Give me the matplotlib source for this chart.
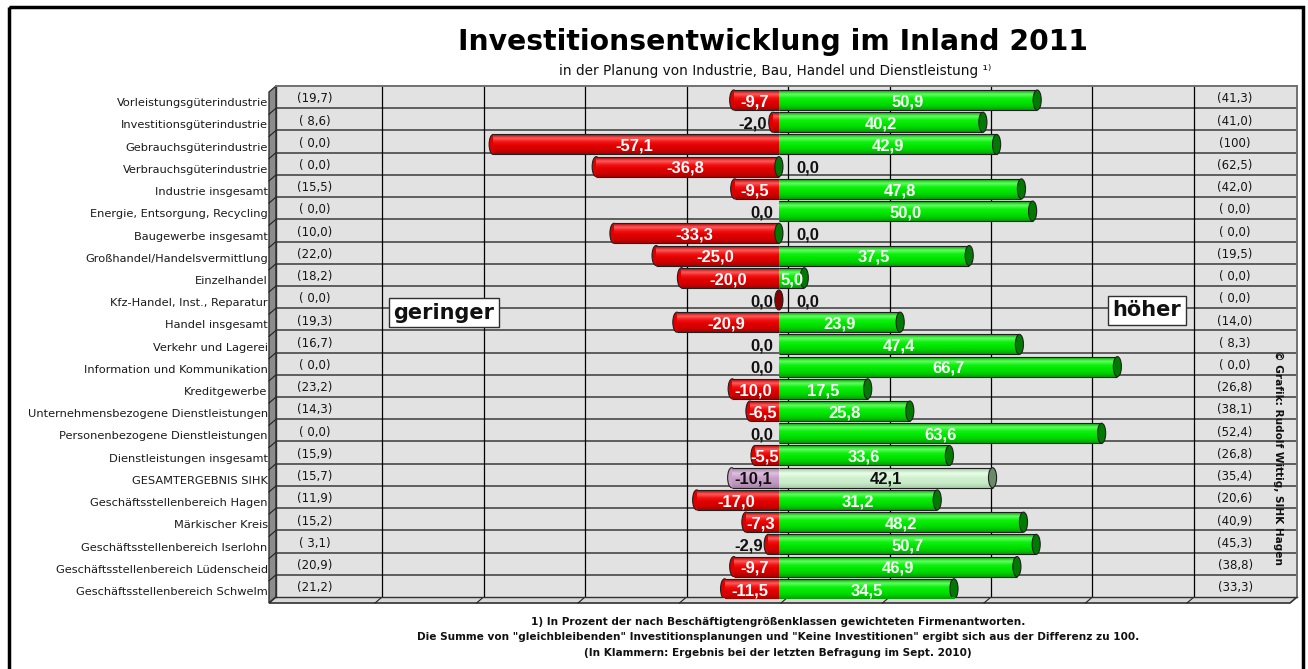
import numpy as np
import matplotlib
matplotlib.use("Agg")
import matplotlib.pyplot as plt
from matplotlib.patches import Ellipse, Polygon, Rectangle
from matplotlib.colors import LinearSegmentedColormap

# ---- data -------------------------------------------------------------
categories = [
    "Vorleistungsgüterindustrie",
    "Investitionsgüterindustrie",
    "Gebrauchsgüterindustrie",
    "Verbrauchsgüterindustrie",
    "Industrie insgesamt",
    "Energie, Entsorgung, Recycling",
    "Baugewerbe insgesamt",
    "Großhandel/Handelsvermittlung",
    "Einzelhandel",
    "Kfz-Handel, Inst., Reparatur",
    "Handel insgesamt",
    "Verkehr und Lagerei",
    "Information und Kommunikation",
    "Kreditgewerbe",
    "Unternehmensbezogene Dienstleistungen",
    "Personenbezogene Dienstleistungen",
    "Dienstleistungen insgesamt",
    "GESAMTERGEBNIS SIHK",
    "Geschäftsstellenbereich Hagen",
    "Märkischer Kreis",
    "Geschäftsstellenbereich Iserlohn",
    "Geschäftsstellenbereich Lüdenscheid",
    "Geschäftsstellenbereich Schwelm",
]
lower = [-9.7, -2.0, -57.1, -36.8, -9.5, 0.0, -33.3, -25.0, -20.0, 0.0, -20.9, 0.0,
         0.0, -10.0, -6.5, 0.0, -5.5, -10.1, -17.0, -7.3, -2.9, -9.7, -11.5]
higher = [50.9, 40.2, 42.9, 0.0, 47.8, 50.0, 0.0, 37.5, 5.0, 0.0, 23.9, 47.4,
          66.7, 17.5, 25.8, 63.6, 33.6, 42.1, 31.2, 48.2, 50.7, 46.9, 34.5]
# previous survey (Sept. 2010), shown in brackets
prev_lower = [19.7, 8.6, 0.0, 0.0, 15.5, 0.0, 10.0, 22.0, 18.2, 0.0, 19.3, 16.7,
              0.0, 23.2, 14.3, 0.0, 15.9, 15.7, 11.9, 15.2, 3.1, 20.9, 21.2]
prev_higher = [41.3, 41.0, 100, 62.5, 42.0, 0.0, 0.0, 19.5, 0.0, 0.0, 14.0, 8.3,
               0.0, 26.8, 38.1, 52.4, 26.8, 35.4, 20.6, 40.9, 45.3, 38.8, 33.3]
highlight = "GESAMTERGEBNIS SIHK"

title = "Investitionsentwicklung im Inland 2011"
subtitle = "in der Planung von Industrie, Bau, Handel und Dienstleistung \u00b9\u207e"
footnotes = [
    "1) In Prozent der nach Beschäftigtengrößenklassen gewichteten Firmenantworten.",
    "Die Summe von \"gleichbleibenden\" Investitionsplanungen und \"Keine Investitionen\" ergibt sich aus der Differenz zu 100.",
    "(In Klammern: Ergebnis bei der letzten Befragung im Sept. 2010)",
]
credit = "\u00a9 Grafik: Rudolf Wittig, SIHK Hagen"


def de(v):
    if abs(v) < 0.05:
        return "0,0"
    return f"{v:.1f}".replace(".", ",")


def de_prev(v):
    if v >= 100:
        return "(100)"
    return "(" + f"{v:4.1f}".replace(".", ",") + ")"


W, H = 1308, 669
fig = plt.figure(figsize=(W / 100, H / 100), dpi=100)
fig.patch.set_facecolor("white")

# plot wall in pixels: left 276, right 1297, top 86, bottom 597
ax = fig.add_axes([276 / W, 1 - 597 / H, (1297 - 276) / W, (597 - 86) / H])
ax.set_facecolor("#e2e2e2")
ax.set_xlim(-100.9, 100.3)
ax.set_ylim(23, 0)

BASE = -1.8      # front plane of the bars sits in front of the wall
BAR_H = 0.9
CAP_W = 1.6
n = len(categories)
yc = np.arange(n) + 0.63

for k in range(1, n):
    ax.axhline(k, color="#5e5e5e", lw=1.4, zorder=1)
for gx in range(-80, 100, 20):
    ax.axvline(gx, color="black", lw=0.9, zorder=1)

# cylinder shading colormaps
red_cm = LinearSegmentedColormap.from_list("r", ["#b00000", "#ff5a5a", "#f01010", "#e00000", "#d00000", "#a80000"])
green_cm = LinearSegmentedColormap.from_list("g", ["#00a000", "#60ff60", "#10f010", "#00e600", "#00d000", "#00a000"])
purple_cm = LinearSegmentedColormap.from_list("p", ["#a080a0", "#e0c0e0", "#c8a0c8", "#c098c0", "#a880a8"])
lgreen_cm = LinearSegmentedColormap.from_list("lg", ["#a0c8a0", "#e8ffe8", "#d0f0d0", "#c8ecc8", "#a8d0a8"])
grad = np.linspace(0, 1, 64).reshape(-1, 1)


def shade(bar, cmap):
    x0, y0 = bar.get_x(), bar.get_y()
    w, h = bar.get_width(), bar.get_height()
    im = ax.imshow(grad, extent=(x0, x0 + w, y0 + h, y0), cmap=cmap, aspect="auto",
                   interpolation="bilinear", zorder=bar.get_zorder() + 0.1)
    im.set_clip_path(bar)
    ax.hlines([y0, y0 + h], x0, x0 + w, color="#202020", lw=0.8, zorder=bar.get_zorder() + 0.2)


low = np.array(lower)
high = np.array(higher)
is_hl = np.array([c == highlight for c in categories])

# negative side: body starts half a cap width right of the value, rounded end fills the rest
neg_left = BASE + low + CAP_W / 2
neg_bars = ax.barh(yc, BASE - neg_left, left=neg_left, height=BAR_H, color="none",
                   edgecolor="none", zorder=4)
pos_bars = ax.barh(yc, high, left=BASE, height=BAR_H, color="none", edgecolor="none", zorder=6)

for i in range(n):
    red_fc, red_c = ("#c8a0c8", purple_cm) if is_hl[i] else ("#dd0000", red_cm)
    grn_cap, grn_c = ("#6a8a6a", lgreen_cm) if is_hl[i] else ("#007a00", green_cm)
    if low[i] < 0:
        ax.add_patch(Ellipse((neg_left[i], yc[i]), CAP_W, BAR_H, fc=red_fc, ec="#202020",
                             lw=0.8, zorder=3.5))
        shade(neg_bars[i], red_c)
    if high[i] > 0:
        shade(pos_bars[i], grn_c)
        ax.add_patch(Ellipse((BASE + high[i], yc[i]), CAP_W, BAR_H, fc=grn_cap, ec="#202020",
                             lw=0.8, zorder=7))
    elif low[i] < 0:
        ax.add_patch(Ellipse((BASE, yc[i]), CAP_W, BAR_H, fc="#007a00", ec="#202020", lw=0.8, zorder=7))
    else:
        ax.add_patch(Ellipse((BASE, yc[i]), CAP_W, BAR_H, fc="#8a0000", ec="#202020", lw=0.8, zorder=7))

# value labels
lab_font = dict(fontsize=12, fontweight="bold", family=["Liberation Sans", "DejaVu Sans"], zorder=9)
for i in range(n):
    ty = yc[i] + 0.08
    txt_col = "#101010" if is_hl[i] else "white"
    if low[i] == 0:
        ax.text(BASE - 1.2, ty, de(low[i]), ha="right", va="center", color="#101010", **lab_font)
    elif low[i] > -5:
        ax.text(BASE + low[i] - 0.3, ty, de(low[i]), ha="right", va="center", color="#101010", **lab_font)
    else:
        ax.text(BASE + low[i] / 2, ty, de(low[i]), ha="center", va="center", color=txt_col, **lab_font)
    if high[i] == 0:
        ax.text(BASE + 3.5, ty, de(high[i]), ha="left", va="center", color="#101010", **lab_font)
    else:
        ax.text(BASE + high[i] / 2, ty, de(high[i]), ha="center", va="center", color=txt_col, **lab_font)

# bracket columns (previous survey)
for i in range(n):
    ax.text(-93.2, yc[i] - 0.05, de_prev(prev_lower[i]), ha="center", va="center",
            fontsize=8.5, color="#151515", zorder=9)
    ax.text(88.1, yc[i] - 0.05, de_prev(prev_higher[i]), ha="center", va="center",
            fontsize=8.5, color="#151515", zorder=9)

box = dict(boxstyle="square,pad=0.22", fc="white", ec="#303030", lw=1.0)
ax.text(-67.8, 10.2, "geringer", ha="center", va="center", fontsize=15, fontweight="bold",
        color="#111111", bbox=box, zorder=10)
ax.text(70.7, 10.1, "höher", ha="center", va="center", fontsize=15, fontweight="bold",
        color="#111111", bbox=box, zorder=10)

ax.set_yticks(yc + 0.1)
ax.set_yticklabels(categories, fontsize=8.2, color="#1a1a1a")
ax.tick_params(axis="y", length=0, pad=6)
ax.set_xticks([])
for s in ["top", "right"]:
    ax.spines[s].set_color("#707070")
    ax.spines[s].set_linewidth(1.4)
for s in ["left", "bottom"]:
    ax.spines[s].set_color("#303030")
    ax.spines[s].set_linewidth(1.0)

# ---- 3D wall / floor decoration, from the axes' own transform -------
deco = fig.add_axes([0, 0, 1, 1], zorder=-1)
deco.set_xlim(0, W)
deco.set_ylim(H, 0)
deco.axis("off")
fig.canvas.draw()


def to_px(x, y):
    px, py = ax.transData.transform((x, y))
    return px, H - py


L, T = to_px(ax.get_xlim()[0], 0)
R, B = to_px(ax.get_xlim()[1], n)
d = 7
deco.add_patch(Polygon([(L - d, T + 6), (L, T), (L, B), (L - d, B + 6)], closed=True,
                       fc="#8c8c8c", ec="#303030", lw=1.0))
for k in range(1, n):
    _, yy = to_px(0, k)
    deco.plot([L - d, L], [yy + 6, yy], color="#202020", lw=0.8)
deco.add_patch(Polygon([(L, B), (R, B), (R - d, B + 6), (L - d, B + 6)], closed=True,
                       fc="#d8d8d8", ec="#303030", lw=1.2))
for gx in range(-80, 100, 20):
    xx, _ = to_px(gx, n)
    deco.plot([xx - d, xx], [B + 6, B], color="#202020", lw=0.8)

# outer frame
deco.add_patch(Rectangle((8.5, 7), 1294, 700, fill=False, ec="black", lw=2.5))

# ---- titles, notes ----------------------------------------------------
fig.text(773 / W, 1 - 42 / H, title, ha="center", va="center", fontsize=20.3,
         fontweight="bold", color="black")
fig.text(775 / W, 1 - 71 / H, subtitle, ha="center", va="center", fontsize=9.8, color="#111111")
for k, line in enumerate(footnotes):
    fig.text(778 / W, 1 - (622 + 15.5 * k) / H, line, ha="center", va="center",
             fontsize=7.6, fontweight="bold", color="#111111")
fig.text(1278 / W, 1 - 457 / H, credit, ha="center", va="center", rotation=270,
         fontsize=7.6, fontweight="bold", color="#111111")

fig.savefig("out.png", dpi=100)
